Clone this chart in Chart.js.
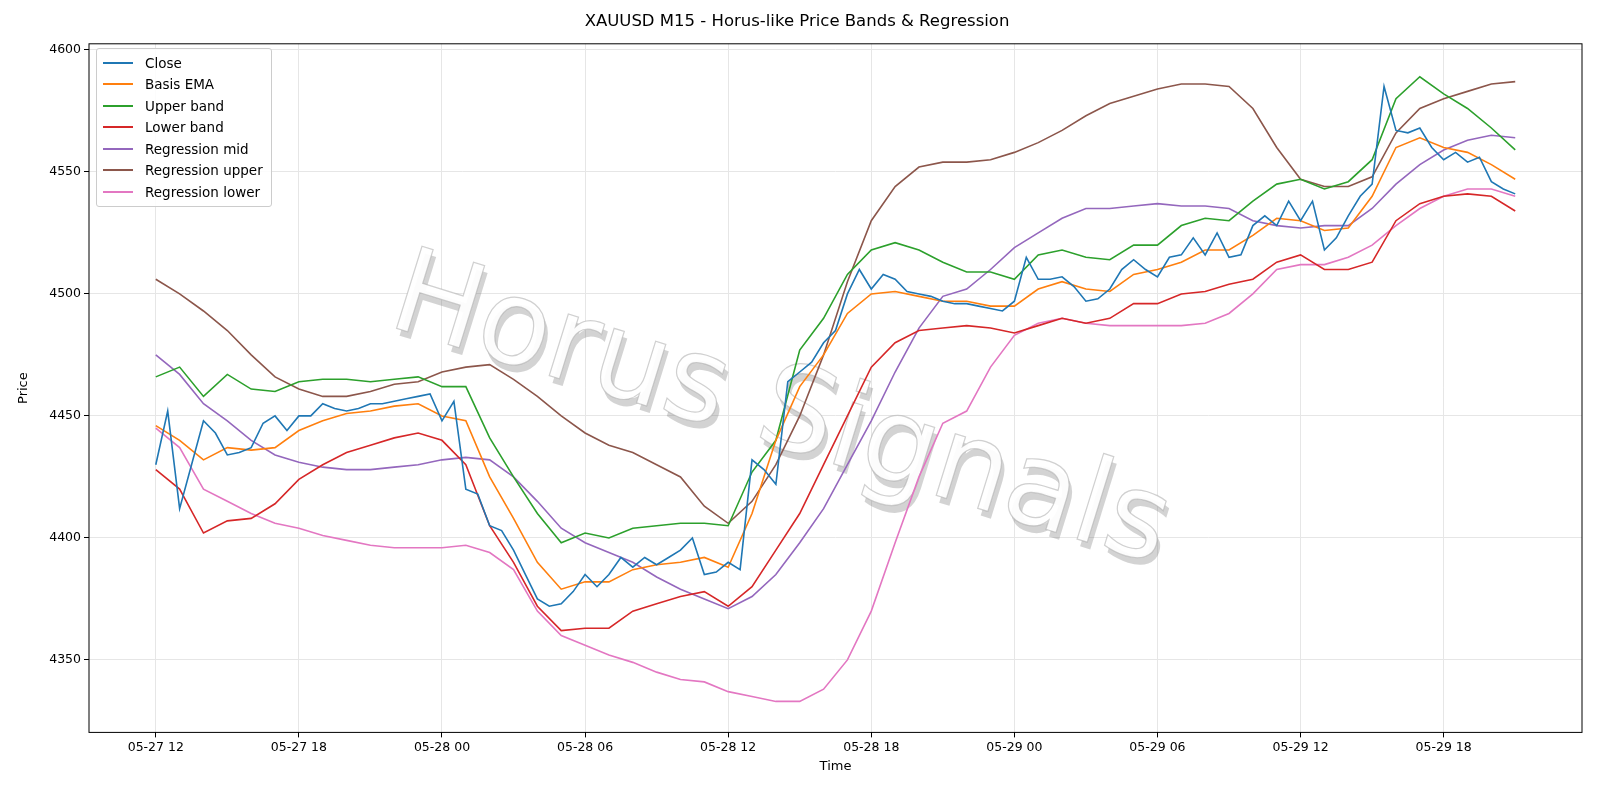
<!DOCTYPE html>
<html><head><meta charset="utf-8">
<script src="https://cdn.jsdelivr.net/npm/chart.js@4/dist/chart.umd.min.js"></script>
<style>body{margin:0;background:#fff}#wrap{position:relative;width:1600px;height:800px}
#leg{position:absolute;left:96px;top:48px;border:1px solid #ccc;border-radius:3px;background:rgba(255,255,255,0.85);font:13.5px "DejaVu Sans";padding:3px 8px 3px 6px}
#leg div{display:flex;align-items:center;height:21.5px}#leg span{display:inline-block;width:30px;height:2px;margin-right:12px}</style>
</head><body><div id="wrap"><canvas id="c" width="1600" height="800"></canvas><div id="leg"></div></div>
<script>
const closeHours=[];for(let i=0;i<=114;i++)closeHours.push(i/2);
const closeVals=[4430,4452,4412,4430,4448,4443,4434,4435,4437,4447,4450,4444,4450,4450,4455,4453,4452,4453,4455,4455,4456,4457,4458,4459,4448,4456,4420,4418,4405,4403,4395,4385,4375,4372,4373,4378,4385,4380,4385,4392,4388,4392,4389,4392,4395,4400,4385,4386,4390,4387,4432,4428,4422,4464,4468,4472,4480,4485,4500,4510,4502,4508,4506,4501,4500,4499,4497,4496,4496,4495,4494,4493,4497,4515,4506,4506,4507,4503,4497,4498,4502,4510,4514,4510,4507,4515,4516,4523,4516,4525,4515,4516,4528,4532,4528,4538,4530,4538,4518,4523,4532,4540,4545,4585,4567,4566,4568,4560,4555,4558,4554,4556,4546,4543,4541];
const hours=[];for(let i=0;i<=57;i++)hours.push(i);
const emaVals=[4446,4440,4432,4437,4436,4437,4444,4448,4451,4452,4454,4455,4450,4448,4425,4408,4390,4379,4382,4382,4387,4389,4390,4392,4388,4410,4440,4462,4475,4492,4500,4501,4499,4497,4497,4495,4495,4502,4505,4502,4501,4508,4510,4513,4518,4518,4524,4531,4530,4526,4527,4540,4560,4564,4560,4558,4553,4547];
const upperVals=[4466,4470,4458,4467,4461,4460,4464,4465,4465,4464,4465,4466,4462,4462,4441,4425,4410,4398,4402,4400,4404,4405,4406,4406,4405,4427,4440,4477,4490,4508,4518,4521,4518,4513,4509,4509,4506,4516,4518,4515,4514,4520,4520,4528,4531,4530,4538,4545,4547,4543,4546,4555,4580,4589,4582,4576,4568,4559];
const lowerVals=[4428,4420,4402,4407,4408,4414,4424,4430,4435,4438,4441,4443,4440,4430,4405,4390,4372,4362,4363,4363,4370,4373,4376,4378,4372,4380,4395,4410,4430,4450,4470,4480,4485,4486,4487,4486,4484,4487,4490,4488,4490,4496,4496,4500,4501,4504,4506,4513,4516,4510,4510,4513,4530,4537,4540,4541,4540,4534];
const regMidVals=[4475,4467,4455,4448,4440,4434,4431,4429,4428,4428,4429,4430,4432,4433,4432,4425,4415,4404,4398,4394,4390,4384,4379,4375,4371,4376,4385,4398,4412,4430,4448,4468,4486,4499,4502,4510,4519,4525,4531,4535,4535,4536,4537,4536,4536,4535,4530,4528,4527,4528,4528,4535,4545,4553,4559,4563,4565,4564];
const regUpVals=[4506,4500,4493,4485,4475,4466,4461,4458,4458,4460,4463,4464,4468,4470,4471,4465,4458,4450,4443,4438,4435,4430,4425,4413,4406,4415,4430,4450,4475,4505,4530,4544,4552,4554,4554,4555,4558,4562,4567,4573,4578,4581,4584,4586,4586,4585,4576,4560,4547,4544,4544,4548,4566,4576,4580,4583,4586,4587];
const regLoVals=[4445,4437,4420,4415,4410,4406,4404,4401,4399,4397,4396,4396,4396,4397,4394,4387,4370,4360,4356,4352,4349,4345,4342,4341,4337,4335,4333,4333,4338,4350,4370,4398,4425,4447,4452,4470,4483,4488,4490,4488,4487,4487,4487,4487,4488,4492,4500,4510,4512,4512,4515,4520,4528,4535,4540,4543,4543,4540];
const yTicks=[4350,4400,4450,4500,4550,4600];
const series=[["Close",closeHours,closeVals,"#1f77b4"],["Basis EMA",hours,emaVals,"#ff7f0e"],["Upper band",hours,upperVals,"#2ca02c"],["Lower band",hours,lowerVals,"#d62728"],["Regression mid",hours,regMidVals,"#9467bd"],["Regression upper",hours,regUpVals,"#8c564b"],["Regression lower",hours,regLoVals,"#e377c2"]];
const leg=document.getElementById('leg');
series.forEach(s=>{leg.innerHTML+=`<div><span style="background:${s[3]}"></span>${s[0]}</div>`});
const pad=n=>String(n).padStart(2,'0');
const fmt=h=>{const d=27+Math.floor((12+h)/24);return `05-${d} ${pad((12+h)%24)}`;};
const wm={id:'wm',beforeDatasetsDraw(c){const x=c.ctx;x.save();x.translate(780,415);x.rotate(0.3);x.font='118px "DejaVu Sans"';x.textAlign='center';x.textBaseline='middle';
x.fillStyle='rgba(110,110,110,0.3)';x.fillText('Horus Signals',5,6);x.fillStyle='rgba(255,255,255,0.95)';x.fillText('Horus Signals',0,0);x.strokeStyle='rgba(170,170,170,0.55)';x.lineWidth=1.2;x.strokeText('Horus Signals',0,0);x.restore();}};
const frame={id:'frame',afterDraw(c){const a=c.chartArea,x=c.ctx;x.save();x.strokeStyle='#000';x.lineWidth=1;x.strokeRect(a.left,a.top,a.right-a.left,a.bottom-a.top);x.restore();}};
new Chart(document.getElementById('c'),{type:'line',
data:{datasets:series.map(s=>({label:s[0],data:s[1].map((h,i)=>({x:h,y:s[2][i]})),borderColor:s[3],borderWidth:1.6,pointRadius:0,tension:0}))},
options:{responsive:false,animation:false,layout:{padding:{left:12,right:18,top:8,bottom:22}},
plugins:{legend:{display:false},tooltip:{enabled:false},title:{display:true,text:'XAUUSD M15 - Horus-like Price Bands & Regression',color:'#000',font:{family:'DejaVu Sans',size:16.5,weight:'normal'},padding:{top:4,bottom:12}}},
scales:{x:{type:'linear',min:-2.8,max:59.8,afterBuildTicks(ax){ax.ticks=[0,6,12,18,24,30,36,42,48,54].map(v=>({value:v}))},
ticks:{callback:v=>fmt(v),color:'#000',font:{family:'DejaVu Sans',size:12.5},maxRotation:0},grid:{color:'#e6e6e6',drawTicks:true,tickLength:5,tickColor:'#000'},border:{display:false},
title:{display:true,text:'Time',color:'#000',font:{family:'DejaVu Sans',size:13},padding:{top:0}}},
y:{min:4320.3,max:4602.5,afterBuildTicks(ax){ax.ticks=yTicks.map(v=>({value:v}))},afterFit(ax){ax.width=77},
ticks:{callback:v=>String(v),color:'#000',font:{family:'DejaVu Sans',size:12.5}},grid:{color:'#e6e6e6',tickLength:5,tickColor:'#000'},border:{display:false},
title:{display:true,text:'Price',color:'#000',font:{family:'DejaVu Sans',size:13}}}}},
plugins:[wm,frame]});
</script></body></html>
